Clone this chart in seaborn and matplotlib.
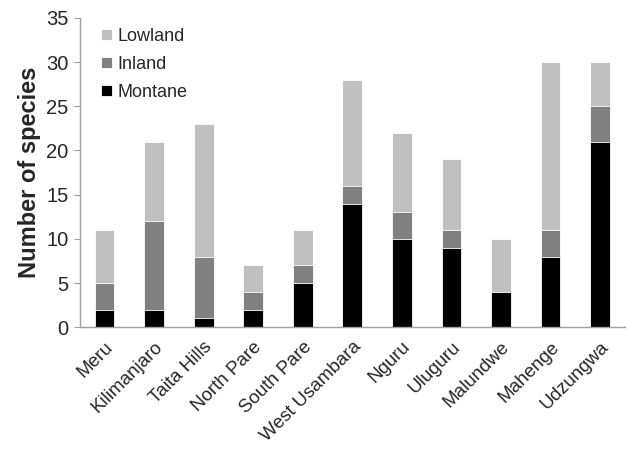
import pandas as pd
import seaborn as sns
import matplotlib.pyplot as plt
import numpy as np

# Species counts per mountain block
sites = ["Meru", "Kilimanjaro", "Taita Hills", "North Pare", "South Pare",
         "West Usambara", "Nguru", "Uluguru", "Malundwe", "Mahenge", "Udzungwa"]
montane = [2, 2, 1, 2, 5, 14, 10, 9, 4, 8, 21]
inland = [3, 10, 7, 2, 2, 2, 3, 2, 0, 3, 4]
lowland = [6, 9, 15, 3, 4, 12, 9, 8, 6, 19, 5]

df = pd.DataFrame({"site": sites, "Montane": montane, "Inland": inland, "Lowland": lowland})
df["m_top"] = df["Montane"]
df["i_top"] = df["Montane"] + df["Inland"]
df["l_top"] = df["i_top"] + df["Lowland"]

sns.set_style("white")
plt.rcParams["font.family"] = ["Liberation Sans", "DejaVu Sans"]

fig = plt.figure(figsize=(6.28, 4.59), dpi=100)
ax = fig.add_axes([0.127, 0.287, 0.868, 0.674])

# Stack by overdrawing cumulative totals
sns.barplot(data=df, x="site", y="l_top", color="#c0c0c0", width=0.4,
            saturation=1, label="Lowland", ax=ax, edgecolor="white", linewidth=0.6)
sns.barplot(data=df, x="site", y="i_top", color="#808080", width=0.4,
            saturation=1, label="Inland", ax=ax, edgecolor="white", linewidth=0.6)
sns.barplot(data=df, x="site", y="m_top", color="black", width=0.4,
            saturation=1, label="Montane", ax=ax, edgecolor="white", linewidth=0.6)

ax.set_ylim(0, 35)
ax.set_yticks(range(0, 36, 5))
ax.set_xlim(-0.5, len(sites) - 0.5)
ax.set_xlabel("")
ax.set_ylabel("Number of species", fontsize=17, fontweight="bold", labelpad=4)
ax.tick_params(axis="y", labelsize=14.5, length=4, color="#a0a0a0", left=True, pad=4)
ax.tick_params(axis="x", labelsize=13.5, length=0, pad=8)
plt.setp(ax.get_xticklabels(), rotation=45, ha="right", rotation_mode="anchor")

for s in ["top", "right"]:
    ax.spines[s].set_visible(False)
for s in ["left", "bottom"]:
    ax.spines[s].set_color("#a0a0a0")
    ax.spines[s].set_linewidth(1)

ax.legend(loc="upper left", bbox_to_anchor=(0.01, 1.02), frameon=False,
          fontsize=13, handlelength=0.6, handleheight=0.6, handletextpad=0.3,
          labelspacing=0.6)

fig.savefig("out.png", dpi=100)
